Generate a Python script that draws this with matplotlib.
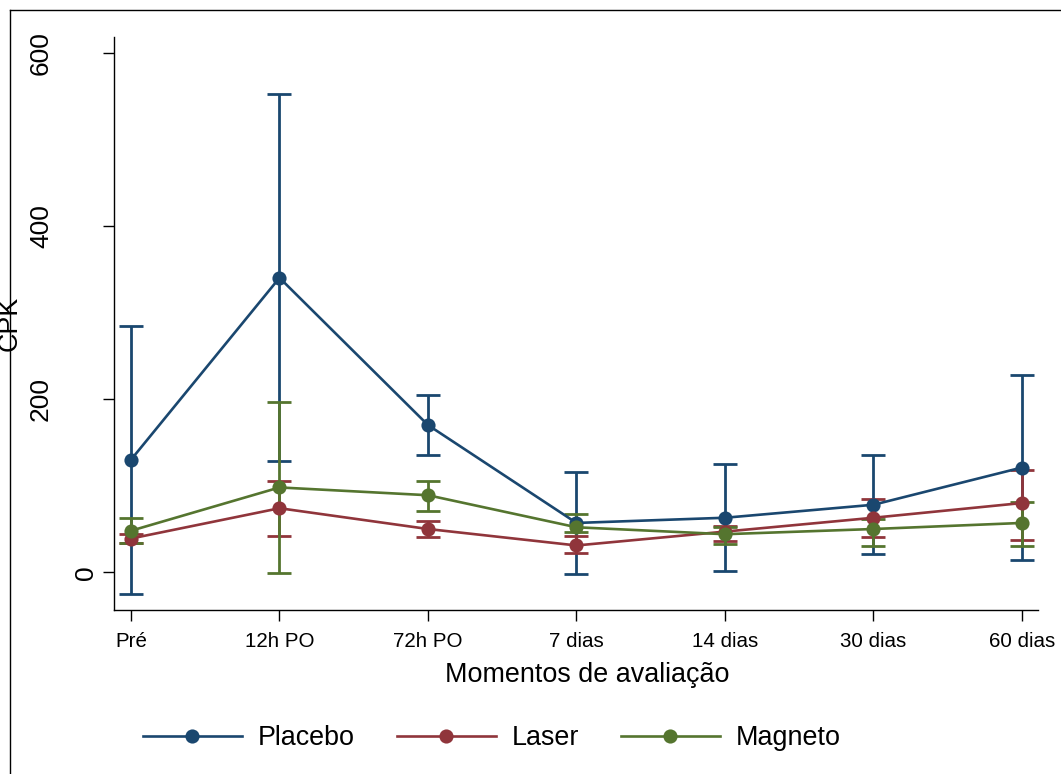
import matplotlib
matplotlib.use("Agg")
import matplotlib.pyplot as plt
import matplotlib.transforms as mtransforms
from matplotlib.lines import Line2D

plt.rcParams['font.family'] = ['Liberation Sans', 'DejaVu Sans']

# CPK means with lower/upper interval limits at each evaluation moment
moments = ["Pré", "12h PO", "72h PO", "7 dias", "14 dias", "30 dias", "60 dias"]

placebo_mean = [130, 340, 170, 57, 63, 78, 121]
placebo_lo = [-25, 128, 135, -2, 1, 21, 14]
placebo_hi = [284, 552, 205, 116, 125, 135, 228]

laser_mean = [39, 74, 50, 31, 47, 63, 80]
laser_lo = [34, 42, 41, 22, 36, 41, 37]
laser_hi = [44, 105, 59, 42, 54, 85, 118]

magneto_mean = [48, 98, 89, 52, 44, 50, 57]
magneto_lo = [34, -1, 71, 46, 33, 30, 30]
magneto_hi = [63, 197, 106, 67, 52, 61, 81]

group_names = ["Placebo", "Laser", "Magneto"]
group_colors = ["#1a476f", "#90353b", "#55752f"]
yticks = [0, 200, 400, 600]

W, H = 1061, 774
fig = plt.figure(figsize=(W / 100, H / 100), dpi=100)
fig.patch.set_facecolor("white")

def fx(px):
    return px / W

def fy(py):
    return 1 - py / H

ax = fig.add_axes([fx(114), fy(610), (1038 - 114) / W, (610 - 37) / H])
ax.set_xlim(-0.1145, 6.108)
ax.set_ylim(-43.5, 618)

x = list(range(len(moments)))
series = [
    (placebo_mean, placebo_lo, placebo_hi),
    (laser_mean, laser_lo, laser_hi),
    (magneto_mean, magneto_lo, magneto_hi),
]

# range caps first, then connected lines with markers
for (mean, lo, hi), col in zip(series, group_colors):
    err = [[m - l for m, l in zip(mean, lo)], [h - m for m, h in zip(mean, hi)]]
    ax.errorbar(x, mean, yerr=err, fmt="none", ecolor=col, elinewidth=2.0,
                capsize=8.5, capthick=2.0, zorder=2)

handles = []
for (mean, lo, hi), col, name in zip(series, group_colors, group_names):
    ln, = ax.plot(x, mean, color=col, lw=1.9, marker="o", markersize=10.2,
                  markeredgewidth=0, label=name, zorder=3)
    handles.append(ln)

# axes styling
for side in ("top", "right"):
    ax.spines[side].set_visible(False)
for side in ("left", "bottom"):
    ax.spines[side].set_linewidth(1.0)
ax.set_xticks(x)
ax.set_yticks(yticks)
ax.tick_params(axis="both", direction="out", length=7.8, width=1.0,
               labelleft=False, labelbottom=False)

# x tick labels
tx = mtransforms.blended_transform_factory(ax.transData, fig.transFigure)
for xi, lab in zip(x, moments):
    ax.text(xi, fy(647), lab, transform=tx, ha="center", va="baseline",
            fontsize=14.8)

# y tick labels, vertical; longer labels sit further from the axis
ty = mtransforms.blended_transform_factory(fig.transFigure, ax.transData)
for v in yticks:
    lab = str(v)
    bx = 93 - (len(lab) - 1) * 22.5
    ax.text(fx(bx), v, lab, transform=ty, rotation=90, rotation_mode="anchor",
            ha="center", va="baseline", fontsize=19.0)

# axis titles
fig.text(fx(17), fy(323.5), "CPK", rotation=90, rotation_mode="anchor",
         ha="center", va="baseline", fontsize=19.4)
fig.text(fx(587), fy(682), "Momentos de avaliação", ha="center",
         va="baseline", fontsize=19.4)

# legend
fig.legend(handles, group_names, loc="center left",
           bbox_to_anchor=(fx(143), fy(738)), ncol=3, frameon=False,
           fontsize=19.4, handlelength=3.67, handletextpad=0.6,
           columnspacing=1.55, borderpad=0, borderaxespad=0)

# outer graph border
fig.add_artist(Line2D([fx(9.5), fx(9.5)], [0, fy(9.5)], color="black",
                      lw=1.0, transform=fig.transFigure))
fig.add_artist(Line2D([fx(9.5), 1], [fy(9.5), fy(9.5)], color="black",
                      lw=1.0, transform=fig.transFigure))

fig.savefig("out.png", dpi=100)
